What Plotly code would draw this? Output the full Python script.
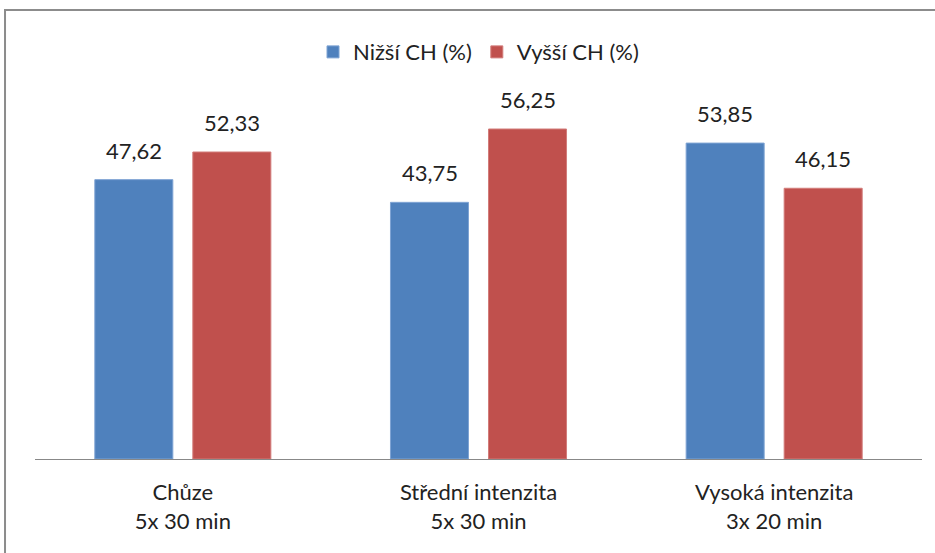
import plotly.graph_objects as go

categories = ["Chůze<br>5x 30 min", "Střední intenzita<br>5x 30 min", "Vysoká intenzita<br>3x 20 min"]
series_names = ["Nižší CH (%)", "Vyšší CH (%)"]
lower_values = [47.62, 43.75, 53.85]
higher_values = [52.33, 56.25, 46.15]

colors = ["#4F81BD", "#C0504D"]
outlines = ["#7FA4D4", "#D27C7A"]
font_family = "Lato, Open Sans, sans-serif"
offsets = [-49, 49]

fig = go.Figure()
for name, vals, col, outl, dx in zip(series_names, [lower_values, higher_values], colors, outlines, offsets):
    fig.add_trace(go.Bar(
        name=name, x=categories, y=vals,
        marker=dict(color=col, line=dict(color=outl, width=1)),
    ))
    # value labels above each bar
    for cat, v in zip(categories, vals):
        fig.add_annotation(x=cat, y=v, text=f"{v:.2f}".replace(".", ","),
                           xshift=dx, yshift=14, yanchor="bottom", showarrow=False,
                           font=dict(size=22, color="#222"))

fig.update_layout(
    width=935, height=553,
    margin=dict(l=35, r=13, t=107, b=94),
    paper_bgcolor="white", plot_bgcolor="white",
    barmode="group", bargap=0.337, bargroupgap=0.204,
    font=dict(family=font_family, size=22, color="#222"),
    showlegend=True,
    legend=dict(orientation="h", x=0.5, xanchor="center", y=1.156, yanchor="middle",
                font=dict(size=22), itemwidth=30, traceorder="normal"),
    xaxis=dict(showline=True, linecolor="#888", linewidth=1, ticks="", showgrid=False,
               tickfont=dict(size=22), ticklabelstandoff=14),
    yaxis=dict(range=[0, 60], visible=False, showgrid=False),
)

# chart frame
fig.add_shape(type="rect", xref="paper", yref="paper",
              x0=-0.0338, x1=1.05, y0=-0.35, y1=1.2756,
              line=dict(color="#8c8c8c", width=2), fillcolor="rgba(0,0,0,0)", layer="below")

fig.write_html("out.html")
